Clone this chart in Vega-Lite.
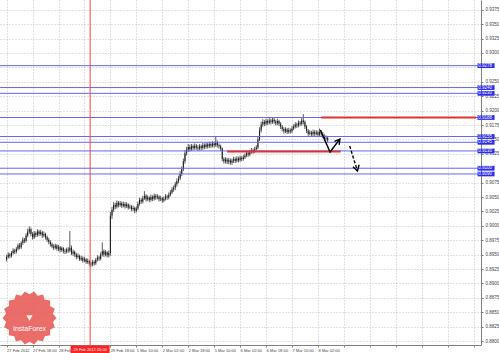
{
"$schema":"https://vega.github.io/schema/vega-lite/v6.json",
"width":481,"height":345,"autosize":"none","padding":{"left":0,"top":0,"right":18,"bottom":8},"background":"white",
"config":{"view":{"stroke":null},"axis":{"labelFont":"Liberation Sans","domainColor":"#808080","tickColor":"#808080","gridColor":"#c4c4c4","gridDash":[1,2],"labelColor":"#444","labelOverlap":false,"labelBound":false,"labelFlush":false,"tickSize":2,"grid":true}},
"datasets":{
"candles":[
{"i":0,"o":0.8942,"h":0.8950,"l":0.8938,"c":0.8946},{"i":1,"o":0.8946,"h":0.8954,"l":0.8943,"c":0.8950},{"i":2,"o":0.8950,"h":0.8953,"l":0.8944,"c":0.8948},{"i":3,"o":0.8948,"h":0.8956,"l":0.8945,"c":0.8953},{"i":4,"o":0.8953,"h":0.8961,"l":0.8950,"c":0.8957},{"i":5,"o":0.8957,"h":0.8960,"l":0.8951,"c":0.8955},{"i":6,"o":0.8955,"h":0.8963,"l":0.8952,"c":0.8960},{"i":7,"o":0.8960,"h":0.8969,"l":0.8957,"c":0.8966},{"i":8,"o":0.8966,"h":0.8970,"l":0.8959,"c":0.8963},{"i":9,"o":0.8963,"h":0.8973,"l":0.8960,"c":0.8970},
{"i":10,"o":0.8970,"h":0.8980,"l":0.8967,"c":0.8976},{"i":11,"o":0.8976,"h":0.8979,"l":0.8970,"c":0.8974},{"i":12,"o":0.8974,"h":0.8987,"l":0.8971,"c":0.8983},{"i":13,"o":0.8983,"h":0.8995,"l":0.8980,"c":0.8990},{"i":14,"o":0.8990,"h":0.8999,"l":0.8986,"c":0.8994},{"i":15,"o":0.8994,"h":0.8997,"l":0.8982,"c":0.8986},{"i":16,"o":0.8986,"h":0.8989,"l":0.8976,"c":0.8980},{"i":17,"o":0.8980,"h":0.8991,"l":0.8977,"c":0.8987},{"i":18,"o":0.8987,"h":0.8990,"l":0.8980,"c":0.8984},{"i":19,"o":0.8984,"h":0.8994,"l":0.8981,"c":0.8990},
{"i":20,"o":0.8990,"h":0.8993,"l":0.8982,"c":0.8986},{"i":21,"o":0.8986,"h":0.8993,"l":0.8983,"c":0.8989},{"i":22,"o":0.8989,"h":0.8991,"l":0.8979,"c":0.8983},{"i":23,"o":0.8983,"h":0.8990,"l":0.8980,"c":0.8986},{"i":24,"o":0.8986,"h":0.8988,"l":0.8976,"c":0.8980},{"i":25,"o":0.8980,"h":0.8983,"l":0.8972,"c":0.8976},{"i":26,"o":0.8976,"h":0.8979,"l":0.8968,"c":0.8972},{"i":27,"o":0.8972,"h":0.8975,"l":0.8964,"c":0.8968},{"i":28,"o":0.8968,"h":0.8971,"l":0.8961,"c":0.8964},{"i":29,"o":0.8964,"h":0.8968,"l":0.8958,"c":0.8962},
{"i":30,"o":0.8962,"h":0.8969,"l":0.8959,"c":0.8966},{"i":31,"o":0.8966,"h":0.8968,"l":0.8957,"c":0.8960},{"i":32,"o":0.8960,"h":0.8967,"l":0.8956,"c":0.8963},{"i":33,"o":0.8963,"h":0.8965,"l":0.8954,"c":0.8958},{"i":34,"o":0.8958,"h":0.8964,"l":0.8955,"c":0.8961},{"i":35,"o":0.8961,"h":0.8963,"l":0.8952,"c":0.8956},{"i":36,"o":0.8956,"h":0.8960,"l":0.8951,"c":0.8955},{"i":37,"o":0.8955,"h":0.8962,"l":0.8952,"c":0.8959},{"i":38,"o":0.8959,"h":0.8963,"l":0.8953,"c":0.8957},{"i":39,"o":0.8957,"h":0.8991,"l":0.8954,"c":0.8962},
{"i":40,"o":0.8962,"h":0.8966,"l":0.8949,"c":0.8952},{"i":41,"o":0.8952,"h":0.8959,"l":0.8948,"c":0.8955},{"i":42,"o":0.8955,"h":0.8957,"l":0.8946,"c":0.8950},{"i":43,"o":0.8950,"h":0.8953,"l":0.8942,"c":0.8946},{"i":44,"o":0.8946,"h":0.8952,"l":0.8943,"c":0.8948},{"i":45,"o":0.8948,"h":0.8950,"l":0.8939,"c":0.8942},{"i":46,"o":0.8942,"h":0.8948,"l":0.8939,"c":0.8944},{"i":47,"o":0.8944,"h":0.8947,"l":0.8936,"c":0.8940},{"i":48,"o":0.8940,"h":0.8946,"l":0.8937,"c":0.8942},{"i":49,"o":0.8942,"h":0.8944,"l":0.8934,"c":0.8937},
{"i":50,"o":0.8937,"h":0.8943,"l":0.8934,"c":0.8939},{"i":51,"o":0.8939,"h":0.8941,"l":0.8931,"c":0.8934},{"i":52,"o":0.8934,"h":0.8938,"l":0.8929,"c":0.8933},{"i":53,"o":0.8933,"h":0.8941,"l":0.8930,"c":0.8937},{"i":54,"o":0.8937,"h":0.8940,"l":0.8931,"c":0.8935},{"i":55,"o":0.8935,"h":0.8944,"l":0.8932,"c":0.8941},{"i":56,"o":0.8941,"h":0.8949,"l":0.8938,"c":0.8945},{"i":57,"o":0.8945,"h":0.8948,"l":0.8939,"c":0.8943},{"i":58,"o":0.8943,"h":0.8954,"l":0.8940,"c":0.8950},{"i":59,"o":0.8950,"h":0.8971,"l":0.8947,"c":0.8956},
{"i":60,"o":0.8956,"h":0.8959,"l":0.8946,"c":0.8950},{"i":61,"o":0.8950,"h":0.8958,"l":0.8947,"c":0.8954},{"i":62,"o":0.8954,"h":0.8956,"l":0.8945,"c":0.8949},{"i":63,"o":0.8949,"h":0.8957,"l":0.8945,"c":0.8953},{"i":64,"o":0.8953,"h":0.9024,"l":0.8948,"c":0.9018},{"i":65,"o":0.9018,"h":0.9033,"l":0.9012,"c":0.9028},{"i":66,"o":0.9028,"h":0.9041,"l":0.9024,"c":0.9036},{"i":67,"o":0.9036,"h":0.9040,"l":0.9029,"c":0.9033},{"i":68,"o":0.9033,"h":0.9044,"l":0.9030,"c":0.9040},{"i":69,"o":0.9040,"h":0.9043,"l":0.9032,"c":0.9036},
{"i":70,"o":0.9036,"h":0.9043,"l":0.9033,"c":0.9039},{"i":71,"o":0.9039,"h":0.9042,"l":0.9031,"c":0.9035},{"i":72,"o":0.9035,"h":0.9042,"l":0.9032,"c":0.9038},{"i":73,"o":0.9038,"h":0.9041,"l":0.9030,"c":0.9034},{"i":74,"o":0.9034,"h":0.9041,"l":0.9031,"c":0.9037},{"i":75,"o":0.9037,"h":0.9039,"l":0.9028,"c":0.9032},{"i":76,"o":0.9032,"h":0.9037,"l":0.9029,"c":0.9033},{"i":77,"o":0.9033,"h":0.9036,"l":0.9025,"c":0.9029},{"i":78,"o":0.9029,"h":0.9035,"l":0.9026,"c":0.9031},{"i":79,"o":0.9031,"h":0.9033,"l":0.9022,"c":0.9026},
{"i":80,"o":0.9026,"h":0.9034,"l":0.9023,"c":0.9030},{"i":81,"o":0.9030,"h":0.9042,"l":0.9027,"c":0.9038},{"i":82,"o":0.9038,"h":0.9049,"l":0.9035,"c":0.9045},{"i":83,"o":0.9045,"h":0.9048,"l":0.9038,"c":0.9042},{"i":84,"o":0.9042,"h":0.9052,"l":0.9039,"c":0.9048},{"i":85,"o":0.9048,"h":0.9060,"l":0.9045,"c":0.9052},{"i":86,"o":0.9052,"h":0.9055,"l":0.9042,"c":0.9046},{"i":87,"o":0.9046,"h":0.9053,"l":0.9043,"c":0.9049},{"i":88,"o":0.9049,"h":0.9051,"l":0.9041,"c":0.9045},{"i":89,"o":0.9045,"h":0.9054,"l":0.9042,"c":0.9050},
{"i":90,"o":0.9050,"h":0.9053,"l":0.9043,"c":0.9047},{"i":91,"o":0.9047,"h":0.9056,"l":0.9044,"c":0.9052},{"i":92,"o":0.9052,"h":0.9055,"l":0.9045,"c":0.9049},{"i":93,"o":0.9049,"h":0.9055,"l":0.9046,"c":0.9051},{"i":94,"o":0.9051,"h":0.9053,"l":0.9042,"c":0.9046},{"i":95,"o":0.9046,"h":0.9052,"l":0.9043,"c":0.9048},{"i":96,"o":0.9048,"h":0.9050,"l":0.9040,"c":0.9044},{"i":97,"o":0.9044,"h":0.9051,"l":0.9041,"c":0.9047},{"i":98,"o":0.9047,"h":0.9055,"l":0.9044,"c":0.9051},{"i":99,"o":0.9051,"h":0.9054,"l":0.9045,"c":0.9049},
{"i":100,"o":0.9049,"h":0.9058,"l":0.9046,"c":0.9054},{"i":101,"o":0.9054,"h":0.9062,"l":0.9051,"c":0.9058},{"i":102,"o":0.9058,"h":0.9067,"l":0.9055,"c":0.9063},{"i":103,"o":0.9063,"h":0.9070,"l":0.9059,"c":0.9066},{"i":104,"o":0.9066,"h":0.9076,"l":0.9062,"c":0.9072},{"i":105,"o":0.9072,"h":0.9082,"l":0.9068,"c":0.9078},{"i":106,"o":0.9078,"h":0.9087,"l":0.9074,"c":0.9082},{"i":107,"o":0.9082,"h":0.9095,"l":0.9079,"c":0.9090},{"i":108,"o":0.9090,"h":0.9103,"l":0.9086,"c":0.9098},{"i":109,"o":0.9098,"h":0.9117,"l":0.9095,"c":0.9112},
{"i":110,"o":0.9112,"h":0.9131,"l":0.9108,"c":0.9126},{"i":111,"o":0.9126,"h":0.9137,"l":0.9122,"c":0.9132},{"i":112,"o":0.9132,"h":0.9142,"l":0.9128,"c":0.9137},{"i":113,"o":0.9137,"h":0.9141,"l":0.9129,"c":0.9133},{"i":114,"o":0.9133,"h":0.9142,"l":0.9130,"c":0.9138},{"i":115,"o":0.9138,"h":0.9141,"l":0.9131,"c":0.9135},{"i":116,"o":0.9135,"h":0.9143,"l":0.9132,"c":0.9139},{"i":117,"o":0.9139,"h":0.9142,"l":0.9132,"c":0.9136},{"i":118,"o":0.9136,"h":0.9140,"l":0.9130,"c":0.9134},{"i":119,"o":0.9134,"h":0.9142,"l":0.9131,"c":0.9138},
{"i":120,"o":0.9138,"h":0.9141,"l":0.9131,"c":0.9135},{"i":121,"o":0.9135,"h":0.9144,"l":0.9132,"c":0.9140},{"i":122,"o":0.9140,"h":0.9143,"l":0.9133,"c":0.9137},{"i":123,"o":0.9137,"h":0.9145,"l":0.9134,"c":0.9141},{"i":124,"o":0.9141,"h":0.9144,"l":0.9134,"c":0.9138},{"i":125,"o":0.9138,"h":0.9146,"l":0.9135,"c":0.9142},{"i":126,"o":0.9142,"h":0.9145,"l":0.9135,"c":0.9139},{"i":127,"o":0.9139,"h":0.9147,"l":0.9136,"c":0.9143},{"i":128,"o":0.9143,"h":0.9146,"l":0.9136,"c":0.9140},{"i":129,"o":0.9140,"h":0.9155,"l":0.9137,"c":0.9145},
{"i":130,"o":0.9145,"h":0.9148,"l":0.9136,"c":0.9140},{"i":131,"o":0.9140,"h":0.9143,"l":0.9134,"c":0.9138},{"i":132,"o":0.9138,"h":0.9141,"l":0.9130,"c":0.9134},{"i":133,"o":0.9134,"h":0.9136,"l":0.9112,"c":0.9116},{"i":134,"o":0.9116,"h":0.9119,"l":0.9108,"c":0.9112},{"i":135,"o":0.9112,"h":0.9119,"l":0.9108,"c":0.9115},{"i":136,"o":0.9115,"h":0.9118,"l":0.9107,"c":0.9111},{"i":137,"o":0.9111,"h":0.9118,"l":0.9107,"c":0.9114},{"i":138,"o":0.9114,"h":0.9117,"l":0.9106,"c":0.9110},{"i":139,"o":0.9110,"h":0.9117,"l":0.9106,"c":0.9113},
{"i":140,"o":0.9113,"h":0.9120,"l":0.9109,"c":0.9116},{"i":141,"o":0.9116,"h":0.9119,"l":0.9109,"c":0.9113},{"i":142,"o":0.9113,"h":0.9121,"l":0.9110,"c":0.9117},{"i":143,"o":0.9117,"h":0.9120,"l":0.9110,"c":0.9114},{"i":144,"o":0.9114,"h":0.9122,"l":0.9111,"c":0.9118},{"i":145,"o":0.9118,"h":0.9121,"l":0.9112,"c":0.9116},{"i":146,"o":0.9116,"h":0.9123,"l":0.9113,"c":0.9119},{"i":147,"o":0.9119,"h":0.9126,"l":0.9116,"c":0.9122},{"i":148,"o":0.9122,"h":0.9130,"l":0.9119,"c":0.9126},{"i":149,"o":0.9126,"h":0.9129,"l":0.9120,"c":0.9124},
{"i":150,"o":0.9124,"h":0.9132,"l":0.9121,"c":0.9128},{"i":151,"o":0.9128,"h":0.9135,"l":0.9125,"c":0.9131},{"i":152,"o":0.9131,"h":0.9134,"l":0.9125,"c":0.9129},{"i":153,"o":0.9129,"h":0.9137,"l":0.9126,"c":0.9133},{"i":154,"o":0.9133,"h":0.9140,"l":0.9130,"c":0.9136},{"i":155,"o":0.9136,"h":0.9155,"l":0.9133,"c":0.9150},{"i":156,"o":0.9150,"h":0.9171,"l":0.9147,"c":0.9166},{"i":157,"o":0.9166,"h":0.9181,"l":0.9162,"c":0.9176},{"i":158,"o":0.9176,"h":0.9185,"l":0.9172,"c":0.9180},{"i":159,"o":0.9180,"h":0.9184,"l":0.9173,"c":0.9177},
{"i":160,"o":0.9177,"h":0.9186,"l":0.9174,"c":0.9182},{"i":161,"o":0.9182,"h":0.9185,"l":0.9175,"c":0.9179},{"i":162,"o":0.9179,"h":0.9187,"l":0.9176,"c":0.9183},{"i":163,"o":0.9183,"h":0.9186,"l":0.9176,"c":0.9180},{"i":164,"o":0.9180,"h":0.9188,"l":0.9177,"c":0.9184},{"i":165,"o":0.9184,"h":0.9187,"l":0.9177,"c":0.9181},{"i":166,"o":0.9181,"h":0.9184,"l":0.9174,"c":0.9178},{"i":167,"o":0.9178,"h":0.9186,"l":0.9175,"c":0.9182},{"i":168,"o":0.9182,"h":0.9184,"l":0.9173,"c":0.9177},{"i":169,"o":0.9177,"h":0.9180,"l":0.9168,"c":0.9172},
{"i":170,"o":0.9172,"h":0.9175,"l":0.9164,"c":0.9168},{"i":171,"o":0.9168,"h":0.9171,"l":0.9160,"c":0.9164},{"i":172,"o":0.9164,"h":0.9171,"l":0.9161,"c":0.9167},{"i":173,"o":0.9167,"h":0.9170,"l":0.9159,"c":0.9163},{"i":174,"o":0.9163,"h":0.9170,"l":0.9160,"c":0.9166},{"i":175,"o":0.9166,"h":0.9169,"l":0.9160,"c":0.9164},{"i":176,"o":0.9164,"h":0.9173,"l":0.9161,"c":0.9169},{"i":177,"o":0.9169,"h":0.9176,"l":0.9166,"c":0.9172},{"i":178,"o":0.9172,"h":0.9180,"l":0.9169,"c":0.9176},{"i":179,"o":0.9176,"h":0.9179,"l":0.9170,"c":0.9174},
{"i":180,"o":0.9174,"h":0.9183,"l":0.9171,"c":0.9179},{"i":181,"o":0.9179,"h":0.9182,"l":0.9173,"c":0.9177},{"i":182,"o":0.9177,"h":0.9187,"l":0.9174,"c":0.9183},{"i":183,"o":0.9183,"h":0.9194,"l":0.9176,"c":0.9180},{"i":184,"o":0.9180,"h":0.9183,"l":0.9168,"c":0.9172},{"i":185,"o":0.9172,"h":0.9175,"l":0.9161,"c":0.9165},{"i":186,"o":0.9165,"h":0.9168,"l":0.9156,"c":0.9160},{"i":187,"o":0.9160,"h":0.9166,"l":0.9157,"c":0.9162},{"i":188,"o":0.9162,"h":0.9165,"l":0.9155,"c":0.9159},{"i":189,"o":0.9159,"h":0.9167,"l":0.9156,"c":0.9163},
{"i":190,"o":0.9163,"h":0.9166,"l":0.9156,"c":0.9160},{"i":191,"o":0.9160,"h":0.9166,"l":0.9157,"c":0.9162},{"i":192,"o":0.9162,"h":0.9165,"l":0.9154,"c":0.9158},{"i":193,"o":0.9158,"h":0.9169,"l":0.9155,"c":0.9163},{"i":194,"o":0.9163,"h":0.9166,"l":0.9156,"c":0.9160},{"i":195,"o":0.9160,"h":0.9163,"l":0.9152,"c":0.9156},{"i":196,"o":0.9156,"h":0.9159,"l":0.9147,"c":0.9151},{"i":197,"o":0.9151,"h":0.9157,"l":0.9148,"c":0.9153},{"i":198,"o":0.9153,"h":0.9156,"l":0.9144,"c":0.9148}
],
"levels":[{"p":0.9278},{"p":0.9240},{"p":0.9230},{"p":0.9188},{"p":0.9155},{"p":0.9145},{"p":0.9130},{"p":0.9100},{"p":0.9090}],
"redlines":[{"a":194,"b":289.5,"p":0.9188},{"a":136,"b":206,"p":0.9129}],
"vline":[{"v":51.5,"label":"29 Feb 2012 05:00"}],
"arrows":[
{"g":"s1","k":0,"x":193.5,"p":0.91663},{"g":"s1","k":1,"x":199.5,"p":0.91281},{"g":"s1","k":2,"x":205.55,"p":0.91507},
{"g":"h1","k":0,"x":202.2,"p":0.91467},{"g":"h1","k":1,"x":205.55,"p":0.91507},{"g":"h1","k":2,"x":205.1,"p":0.91404},
{"g":"h2","k":0,"x":217.4,"p":0.91060},{"g":"h2","k":1,"x":216.4,"p":0.90951},{"g":"h2","k":2,"x":213.6,"p":0.91025}
],
"dashed":[{"g":"s2","k":0,"x":211.6,"p":0.91385},{"g":"s2","k":1,"x":216.4,"p":0.90951}],
"logo":[{"x":14.1,"p":0.8840,"t":"InstaForex"}]
},
"layer":[
{"data":{"name":"candles"},"mark":{"type":"rule","color":"#4a4a4a","strokeWidth":0.9},
 "encoding":{
  "x":{"field":"i","type":"quantitative","scale":{"domain":[-1,289.5],"nice":false,"zero":false},"title":null,
   "axis":{"orient":"bottom","tickCount":100,"values":[0,16,32,48,64,80,96,112,128,144,160,176,192,208,224,240,256,272,288],"labelAlign":"left","labelFontSize":4,"labelPadding":1,
    "labelExpr":"datum.value == 48 || datum.value > 192 ? '' : ['27 Feb 2012','27 Feb 18:00','28 Feb 10:00','29 Feb 02:00','29 Feb 18:00','1 Mar 10:00','2 Mar 02:00','2 Mar 18:00','5 Mar 10:00','6 Mar 02:00','6 Mar 18:00','7 Mar 10:00','8 Mar 02:00'][datum.value/16]"}},
  "y":{"field":"l","type":"quantitative","scale":{"domain":[0.87931,0.9392],"nice":false,"zero":false},"title":null,
   "axis":{"orient":"right","tickCount":100,"values":[0.88,0.8825,0.885,0.8875,0.89,0.8925,0.895,0.8975,0.9,0.9025,0.905,0.9075,0.91,0.9125,0.915,0.9175,0.92,0.9225,0.925,0.9275,0.93,0.9325,0.935,0.9375],"format":".4f","labelFontSize":4.5,"labelPadding":2,
    "labelExpr":"abs(datum.value - 0.9275) < 0.0001 || abs(datum.value - 0.91) < 0.0001 ? '' : datum.label"}},
  "y2":{"field":"h"}}},
{"data":{"name":"logo"},"mark":{"type":"point","filled":true,"shape":"M1,0L0.867,0.153L0.94,0.342L0.762,0.44L0.766,0.643L0.566,0.674L0.5,0.866L0.301,0.827L0.174,0.985L0,0.88L-0.174,0.985L-0.301,0.827L-0.5,0.866L-0.566,0.674L-0.766,0.643L-0.762,0.44L-0.94,0.342L-0.867,0.153L-1,0L-0.867,-0.153L-0.94,-0.342L-0.762,-0.44L-0.766,-0.643L-0.566,-0.674L-0.5,-0.866L-0.301,-0.827L-0.174,-0.985L0,-0.88L0.174,-0.985L0.301,-0.827L0.5,-0.866L0.566,-0.674L0.766,-0.643L0.762,-0.44L0.94,-0.342L0.867,-0.153Z","size":2916,"color":"#e65350","opacity":0.85,"strokeWidth":0},
 "encoding":{"x":{"field":"x","type":"quantitative","title":null},"y":{"field":"p","type":"quantitative","title":null}}},
{"data":{"name":"logo"},"mark":{"type":"text","color":"white","fontSize":7,"font":"Liberation Sans","dy":11},
 "encoding":{"x":{"field":"x","type":"quantitative","title":null},"y":{"field":"p","type":"quantitative","title":null},"text":{"field":"t"}}},
{"data":{"name":"logo"},"mark":{"type":"point","filled":true,"shape":"triangle-down","size":40,"color":"white","opacity":0.9,"dy":-9},
 "encoding":{"x":{"field":"x","type":"quantitative","title":null},"y":{"field":"p","type":"quantitative","title":null}}},
{"data":{"name":"candles"},"mark":{"type":"bar","size":1,"color":"#1a1a1a"},
 "encoding":{"x":{"field":"i","type":"quantitative","title":null},"y":{"field":"o","type":"quantitative","title":null},"y2":{"field":"c"}}},
{"data":{"name":"levels"},"mark":{"type":"rule","color":"#6666f2","strokeWidth":1},
 "encoding":{"y":{"field":"p","type":"quantitative","title":null}}},
{"data":{"name":"redlines"},"mark":{"type":"rule","color":"#e53030","strokeWidth":2},
 "encoding":{"x":{"field":"a","type":"quantitative","title":null},"x2":{"field":"b"},"y":{"field":"p","type":"quantitative","title":null}}},
{"data":{"name":"vline"},"mark":{"type":"rule","color":"#ff3c3c","strokeWidth":1},
 "encoding":{"x":{"field":"v","type":"quantitative","title":null}}},
{"data":{"name":"vline"},"mark":{"type":"point","filled":true,"shape":"M-1,-0.205L1,-0.205L1,0.205L-1,0.205Z","size":1521,"color":"#ff2222","opacity":1,"strokeWidth":0},
 "encoding":{"x":{"field":"v","type":"quantitative","title":null},"y":{"datum":0.87852,"type":"quantitative"}}},
{"data":{"name":"vline"},"mark":{"type":"text","color":"white","fontSize":4,"font":"Liberation Sans","align":"center","baseline":"middle"},
 "encoding":{"x":{"field":"v","type":"quantitative","title":null},"y":{"datum":0.87852,"type":"quantitative"},"text":{"field":"label"}}},
{"data":{"name":"arrows"},"mark":{"type":"line","color":"black","strokeWidth":1.4},
 "encoding":{"x":{"field":"x","type":"quantitative","title":null},"y":{"field":"p","type":"quantitative","title":null},"detail":{"field":"g"},"order":{"field":"k"}}},
{"data":{"name":"dashed"},"mark":{"type":"line","color":"black","strokeWidth":1.4,"strokeDash":[3,2]},
 "encoding":{"x":{"field":"x","type":"quantitative","title":null},"y":{"field":"p","type":"quantitative","title":null},"detail":{"field":"g"},"order":{"field":"k"}}},
{"data":{"name":"levels"},"mark":{"type":"point","filled":true,"shape":"M-1,-0.28L1,-0.28L1,0.28L-1,0.28Z","size":289,"color":"#2a2af0","opacity":1,"strokeWidth":0},
 "encoding":{"x":{"datum":295.7,"type":"quantitative"},"y":{"field":"p","type":"quantitative","title":null}}},
{"data":{"name":"levels"},"mark":{"type":"text","color":"white","fontSize":4.5,"font":"Liberation Sans","align":"left","baseline":"middle"},
 "encoding":{"x":{"datum":290.9,"type":"quantitative"},"y":{"field":"p","type":"quantitative","title":null},"text":{"field":"p","type":"quantitative","format":".4f"}}}
]
}
